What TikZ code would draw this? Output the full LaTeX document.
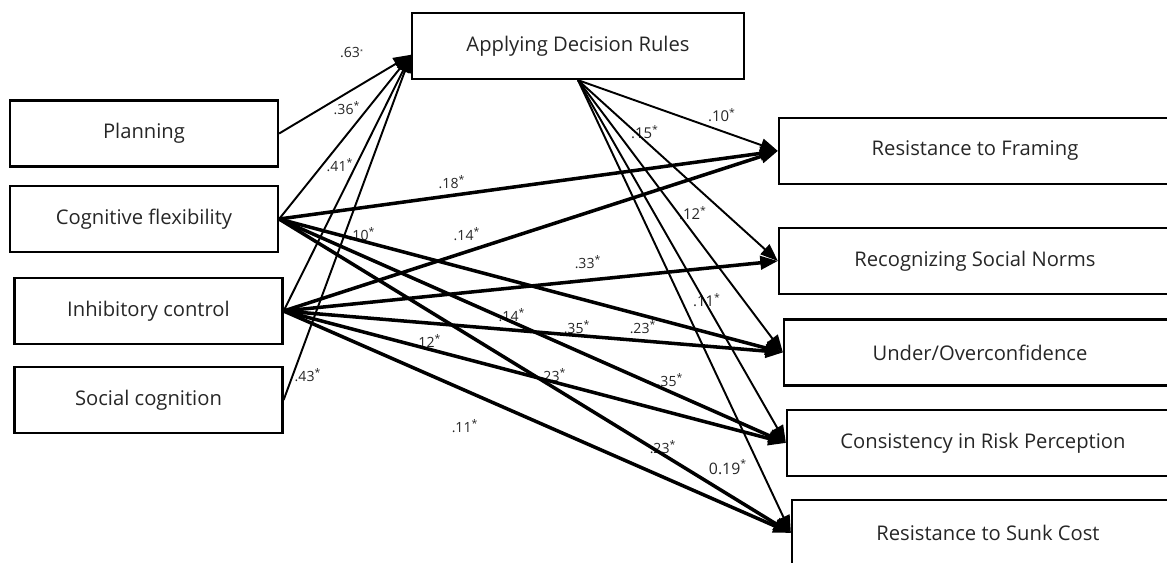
\documentclass[tikz,border=0pt]{standalone}
\usepackage{fontspec}
\setmainfont{Open Sans}
\usetikzlibrary{arrows.meta}
\definecolor{txtgray}{HTML}{262626}
\newcommand{\sig}{\textsuperscript{*}}

\begin{document}
\begin{tikzpicture}[x=0.02cm, y=-0.02cm,
  box/.style={draw, line width=1.3pt, minimum width=5.36cm, minimum height=1.32cm,
    font=\fontsize{11.5}{13}\selectfont, text=txtgray},
  outbox/.style={box, minimum width=7.84cm},
  link/.style={line width=1.1pt, -{Triangle[length=10pt,width=7.5pt]}},
  heavy/.style={link, line width=2pt},
  lab/.style={font=\fontsize{8}{9}\selectfont, text=txtgray, inner sep=0pt},
  labA/.style={lab, font=\fontsize{8.5}{10}\selectfont}]
  \useasboundingbox (0,0) rectangle (1167,562);
  \clip (0,0) rectangle (1167,562);
  % predictors
  \node[box] (P) at (144,133.5) {Planning};
  \node[box] (C) at (144,219) {Cognitive flexibility};
  \node[box] (I) at (148.5,311) {Inhibitory control};
  \node[box] (S) at (148.5,400) {Social cognition};
  % mediator
  \node[box, minimum width=6.64cm] (A) at (578,46) {Applying Decision Rules};
  % outcomes
  \node[outbox] (F) at (975,151) {Resistance to Framing};
  \node[outbox] (N) at (975,261) {Recognizing Social Norms};
  \node[outbox] (U) at (980,352.5) {Under/Overconfidence};
  \node[outbox] (K) at (983,443) {Consistency in Risk Perception};
  \node[outbox] (SC) at (988,533) {Resistance to Sunk Cost};
  % path weights
  \node[lab] (wPA) at (352,53) {.63\textsuperscript{\scalebox{0.5}{*}}};
  \node[lab] (wCA) at (347,108) {.36\sig};
  \node[lab] (wIA) at (340,165) {.41\sig};
  \node[lab] (wSA) at (308,375) {.43\sig};
  \node[lab] (wCF) at (452,182) {.18\sig};
  \node[lab] (wIF) at (467,234) {.14\sig};
  \node[lab] (wCU) at (362,234) {.10\sig};
  \node[lab] (wIN) at (588,262) {.33\sig};
  \node[lab] (wCK) at (512,315) {.14\sig};
  \node[lab] (wIU) at (577,327) {.35\sig};
  \node[lab] (wCU2) at (643,327) {.23\sig};
  \node[lab] (wIK) at (428,341) {.12\sig};
  \node[lab] (wIK2) at (553,375) {.23\sig};
  \node[lab] (wCK2) at (670,380) {.35\sig};
  \node[lab] (wIS) at (465,426) {.11\sig};
  \node[lab] (wCS) at (663,447) {.23\sig};
  \node[labA] (wAF) at (722,115) {.10\sig};
  \node[labA] (wAN) at (645,132) {.15\sig};
  \node[labA] (wAU) at (693,213) {.12\sig};
  \node[labA] (wAK) at (707,300) {.11\sig};
  \node[labA, font=\fontsize{9}{11}\selectfont] (wAS) at (728,467) {0.19\sig};
  % into the mediator
  \foreach \src in {P,C,I,S}
    \draw[link] (\src.east) -- ([yshift=-5pt]A.west);
  % direct paths
  \foreach \dst in {F,U,K,SC}
    \draw[heavy] (C.east) -- (\dst.west);
  \foreach \dst in {F,N,U,K,SC}
    \draw[heavy] (I.east) -- (\dst.west);
  % out of the mediator
  \foreach \dst in {F,N,U,K,SC}
    \draw[link] (A.south) -- (\dst.west);
\end{tikzpicture}
\end{document}
